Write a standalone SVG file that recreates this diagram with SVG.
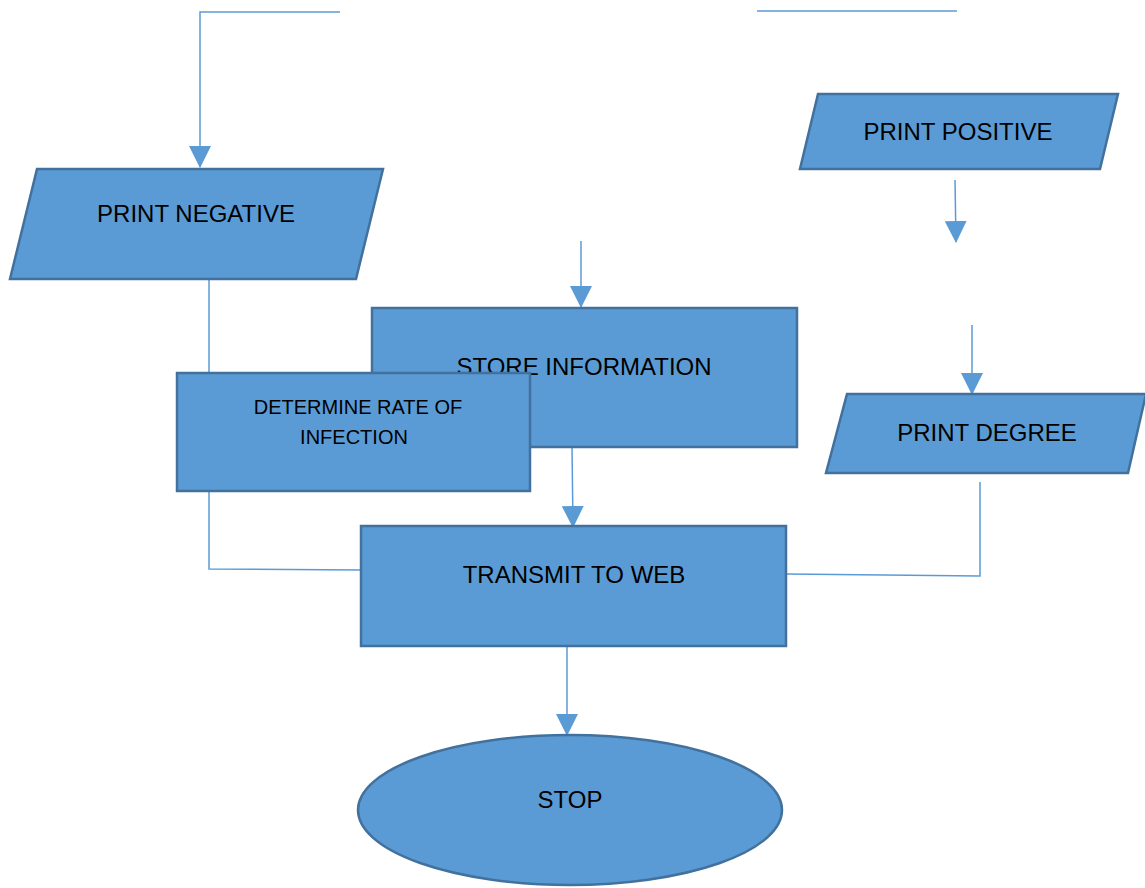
<svg xmlns="http://www.w3.org/2000/svg" width="1145" height="888" viewBox="0 0 1145 888">
<style>
.shape{fill:#5B9BD5;stroke:#41719C;stroke-width:2.5}
.conn{fill:none;stroke:#5B9BD5;stroke-width:1.5}
.lbl{font-family:"Liberation Sans",Arial,sans-serif;font-size:24px;fill:#000;text-anchor:middle}
.sm{font-size:20px}
</style>
<defs>
<marker id="arr" markerUnits="userSpaceOnUse" markerWidth="22" markerHeight="22" refX="21" refY="11" orient="auto">
<path d="M0,0 L22,11 L0,22 Z" fill="#5B9BD5"/>
</marker>
</defs>
<rect width="1145" height="888" fill="#fff"/>
<g id="connectors">
<polyline class="conn" points="340,12 200,12 200,167" marker-end="url(#arr)"/>
<line class="conn" x1="757" y1="11" x2="957" y2="11"/>
<polyline class="conn" points="209,279 209,569 361,570"/>
<line class="conn" x1="581" y1="241" x2="581" y2="307" marker-end="url(#arr)"/>
<line class="conn" x1="572" y1="447" x2="573" y2="527" marker-end="url(#arr)"/>
<line class="conn" x1="955" y1="180" x2="956" y2="242" marker-end="url(#arr)"/>
<line class="conn" x1="972" y1="325" x2="972" y2="394" marker-end="url(#arr)"/>
<polyline class="conn" points="980,482 980,576 787,574"/>
<line class="conn" x1="567" y1="646" x2="567" y2="735" marker-end="url(#arr)"/>
</g>
<g id="print-negative">
<polygon class="shape" points="37,169 383,169 356,279 10,279"/>
<text class="lbl" x="196" y="222">PRINT NEGATIVE</text>
</g>
<g id="print-positive">
<polygon class="shape" points="818,94 1118,94 1100,169 800,169"/>
<text class="lbl" x="958" y="140">PRINT POSITIVE</text>
</g>
<g id="store-information">
<rect class="shape" x="372" y="308" width="425" height="139"/>
<text class="lbl" x="584" y="375">STORE INFORMATION</text>
</g>
<g id="determine-rate">
<rect class="shape" x="177" y="373" width="353" height="118"/>
<text class="lbl sm" x="358" y="414">DETERMINE RATE OF</text>
<text class="lbl sm" x="354" y="444">INFECTION</text>
</g>
<g id="print-degree">
<polygon class="shape" points="847,394 1146,394 1128,473 826,473"/>
<text class="lbl" x="987" y="441">PRINT DEGREE</text>
</g>
<g id="transmit-to-web">
<rect class="shape" x="361" y="526" width="425" height="120"/>
<text class="lbl" x="574" y="583">TRANSMIT TO WEB</text>
</g>
<g id="stop">
<ellipse class="shape" cx="570" cy="810" rx="212" ry="75"/>
<text class="lbl" x="570" y="808">STOP</text>
</g>
</svg>
